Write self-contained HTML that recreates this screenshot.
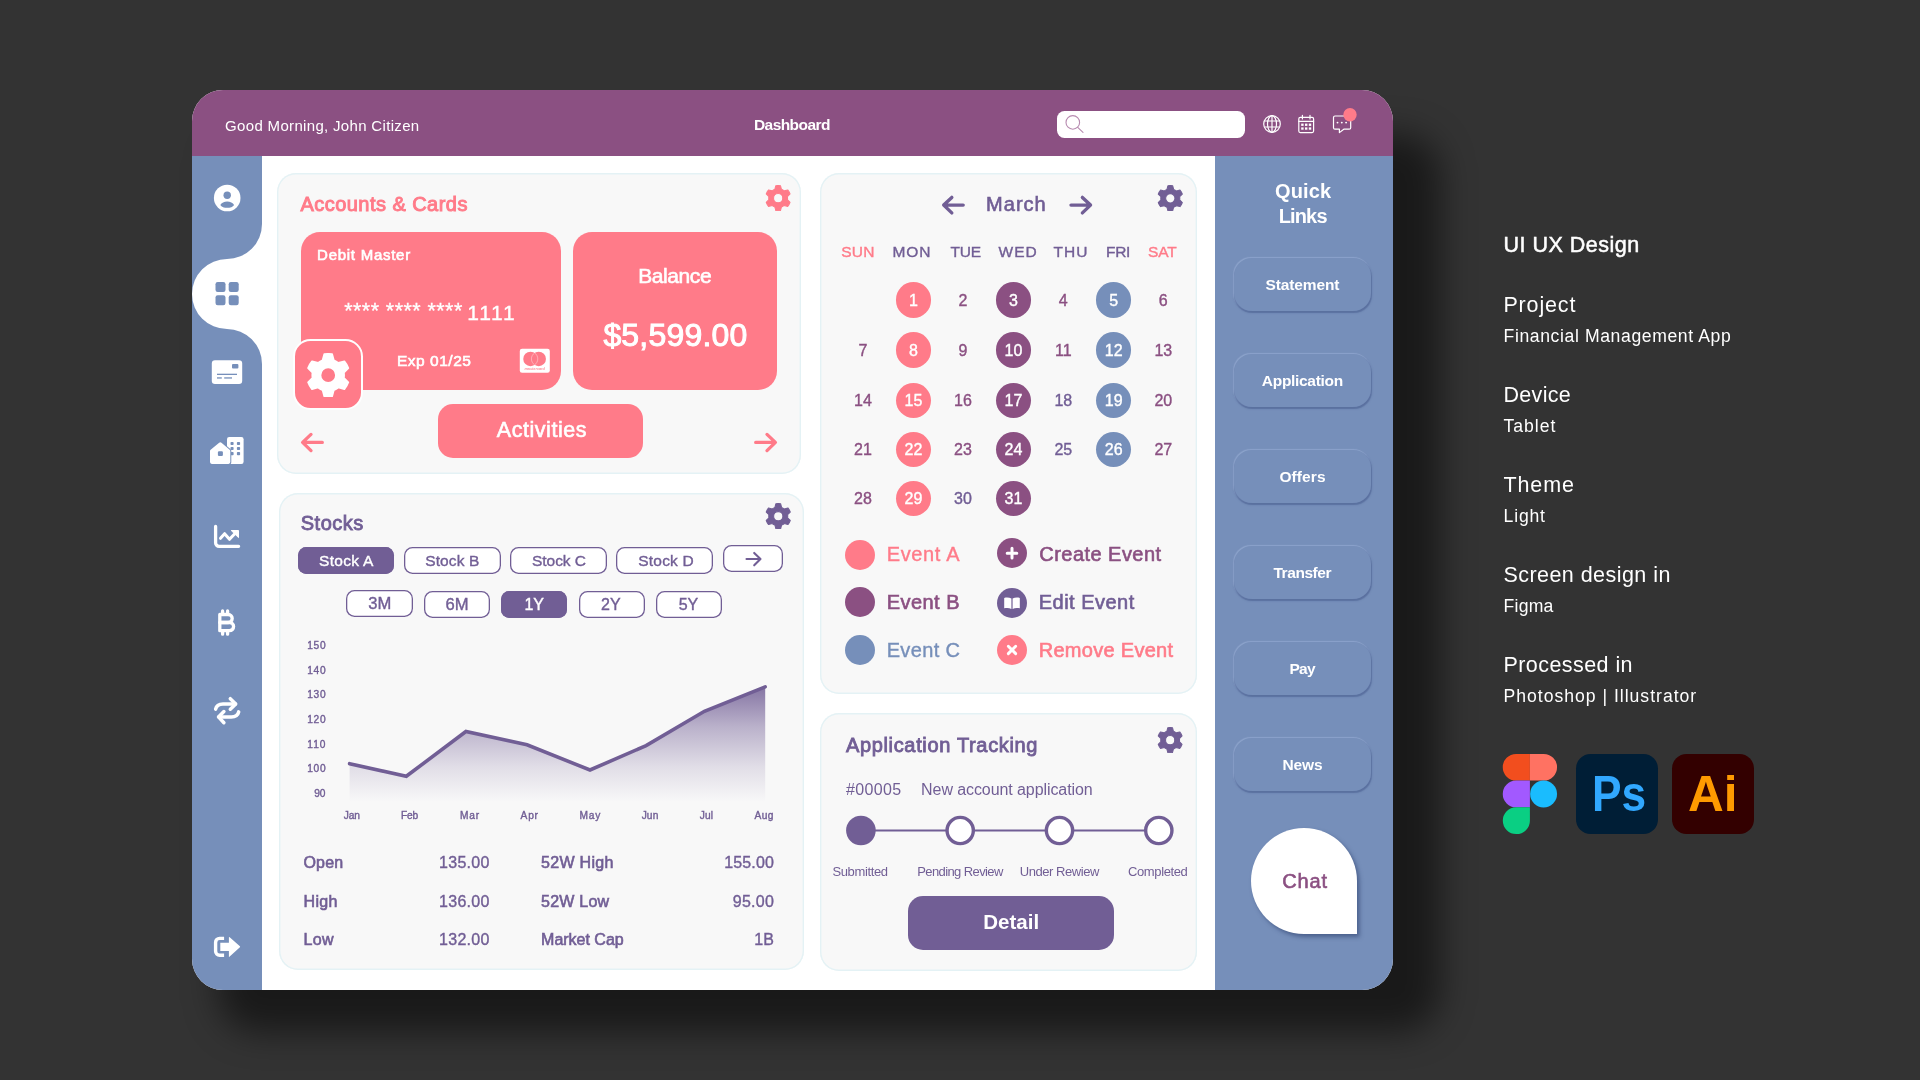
<!DOCTYPE html>
<html lang="en">
<head>
<meta charset="utf-8">
<title>Financial Management App - Dashboard</title>
<style>
*{margin:0;padding:0;box-sizing:border-box}
html,body{width:1920px;height:1080px;overflow:hidden;background:#333333}
body{position:relative;font-family:"Liberation Sans",sans-serif}
.a{position:absolute}
.t{position:absolute;white-space:nowrap;line-height:1;font-family:"Liberation Sans",sans-serif}
#shadow{position:absolute;left:218px;top:134px;width:1222px;height:898px;border-radius:40px;background:rgba(0,0,0,.5);filter:blur(17px)}
#device{position:absolute;left:192px;top:90px;width:1200.5px;height:900px;border-radius:31px;background:#fff;overflow:hidden}
#wrap{position:absolute;left:0;top:0;width:1920px;height:1080px;will-change:transform}
.card{background:#F8F8F8;box-shadow:inset 0 0 0 1.4px #E4F2F5;border-radius:19px}
.pink{background:#FF7B89}
.sbtn{box-shadow:inset 0 0 0 1.3px #715E95;border-radius:8.5px;background:#fff;height:27px}
.sbtn.on{background:#715E95}
.ql{left:1234.2px;width:136.6px;height:53.2px;margin-top:.6px;border-radius:18px;background:#768FBA;box-shadow:0.9px 1.2px 1.3px rgba(66,86,136,.55),-0.8px -0.8px 1px rgba(176,196,232,.42)}
.day{width:35.4px;height:35.4px;border-radius:50%}
</style>
</head>
<body>
<div id="wrap">
<div id="shadow"></div>
<div id="device"><div class="a" style="left:-192px;top:-90px;width:1920px;height:1080px">

<!-- header / sidebars -->
<div class="a" style="left:192px;top:90px;width:1201px;height:66px;background:#8B5082"></div>
<div class="a" style="left:1215.4px;top:156px;width:178px;height:834px;background:#768FBA"></div>
<!-- left sidebar with active-tab notch -->
<svg class="a" style="left:192px;top:156px" width="80" height="834" viewBox="192 156 80 834">
  <path fill="#768FBA" d="M192 156 H262 V224 A35 35 0 0 1 227 259 A35 35 0 0 0 227 329 A35 35 0 0 1 262 364 V990 H192 Z"/>
</svg>

<!-- ===== sidebar icons ===== -->
<svg class="a" style="left:192px;top:156px" width="70" height="834" viewBox="192 156 70 834">
  <!-- user -->
  <circle cx="227.200" cy="198" r="13.300" fill="#fff"/>
  <circle cx="227.200" cy="195.200" r="3.700" fill="#768FBA"/>
  <path fill="#768FBA" d="M220.300 205 C222.500 200.200 231.900 200.200 234.100 205 C231.900 208.800 222.500 208.800 220.300 205 Z"/>
  <!-- grid -->
  <g fill="#768FBA">
    <rect x="215.500" y="282" width="10" height="10" rx="2.200"/>
    <rect x="228.700" y="282" width="10" height="10" rx="2.200"/>
    <rect x="215.500" y="295.300" width="10" height="10" rx="2.200"/>
    <rect x="228.700" y="295.300" width="10" height="10" rx="2.200"/>
  </g>
  <!-- card -->
  <rect x="211.800" y="360.200" width="30.400" height="23.800" rx="3.200" fill="#fff"/>
  <rect x="232" y="364" width="6.400" height="4.600" rx="1" fill="#768FBA"/>
  <rect x="217" y="373.700" width="20" height="1.300" fill="#768FBA"/>
  <rect x="217" y="377.300" width="4.800" height="1.300" fill="#768FBA"/>
  <rect x="224.200" y="377.300" width="7.800" height="1.300" fill="#768FBA"/>
  <!-- building -->
  <rect x="227" y="437" width="16.600" height="26.900" rx="2.200" fill="#fff"/>
  <g fill="#768FBA">
    <rect x="230.500" y="441.900" width="3.100" height="3.200" rx="0.800"/><rect x="236.900" y="441.900" width="3.200" height="3.200" rx="0.800"/>
    <rect x="230.500" y="446.900" width="3.100" height="3.200" rx="0.800"/><rect x="236.900" y="446.900" width="3.200" height="3.200" rx="0.800"/>
    <rect x="230.500" y="452" width="3.100" height="3.200" rx="0.800"/><rect x="236.900" y="452" width="3.200" height="3.200" rx="0.800"/>
  </g>
  <path d="M220.300 444.100 L228.500 451.100 V462.100 H211.800 V451.100 Z" fill="#768FBA" stroke="#768FBA" stroke-width="5.600" stroke-linejoin="round"/>
  <path d="M220.300 444.100 L228.500 451.100 V462.100 H211.800 V451.100 Z" fill="#fff" stroke="#fff" stroke-width="3.600" stroke-linejoin="round"/>
  <rect x="217.900" y="451.300" width="5" height="4.800" rx="1.100" fill="#768FBA"/>
  <!-- chart line -->
  <path fill="none" stroke="#fff" stroke-width="3.300" stroke-linecap="round" stroke-linejoin="round" d="M215.600 526.400 V542.800 A3.500 3.500 0 0 0 219.100 546.300 H238.600"/>
  <path fill="none" stroke="#fff" stroke-width="3" stroke-linecap="round" stroke-linejoin="round" d="M220.500 538.300 L224.600 533.700 L229.500 539.300 L235.500 533"/>
  <path fill="#fff" stroke="#fff" stroke-width="1" stroke-linejoin="round" d="M231.200 530.500 H238.500 V537.600 Z"/>
  <!-- bitcoin -->
  <g fill="none" stroke="#fff" stroke-width="3.300" stroke-linejoin="round" stroke-linecap="round">
    <path d="M219.800 614.500 H228.200 A4 4 0 0 1 228.200 622.500 H219.800 Z"/>
    <path d="M219.800 622.500 H229.500 A4.100 4.100 0 0 1 229.500 630.700 H219.800 Z"/>
    <path d="M222.600 610.900 V613 M227.600 610.900 V613 M222.600 632 V634.200 M227.600 632 V634.200"/>
  </g>
  <!-- repeat -->
  <g fill="none" stroke="#fff" stroke-width="3.500" stroke-linecap="round" stroke-linejoin="round">
    <path d="M215.600 709.200 C216.300 705.600 219 703.900 223 703.900 H235.500"/>
    <path d="M230.300 698.700 L235.700 703.900 L230.300 709.200"/>
    <path d="M238.700 711.900 C238 715.200 235.200 716.900 231.300 716.900 H218.800"/>
    <path d="M223.900 711.500 L218.500 716.900 L223.900 722.700"/>
  </g>
  <!-- logout -->
  <path fill="none" stroke="#fff" stroke-width="3.400" stroke-linejoin="round" d="M224.100 938.400 H219.600 A4 4 0 0 0 215.600 942.400 V951.300 A4 4 0 0 0 219.600 955.300 H224.100"/>
  <path fill="#fff" d="M220.300 942.800 H228.900 V937.500 Q228.900 936.600 229.700 937.300 L239.900 946.300 Q240.400 946.800 239.900 947.300 L229.700 956.600 Q228.900 957.300 228.900 956.400 V950.900 H220.300 Z"/>
</svg>

<!-- ===== header widgets ===== -->
<div class="a" style="left:1056.500px;top:111px;width:188.500px;height:27px;border-radius:7.500px;background:#fff"></div>
<svg class="a" style="left:1040px;top:100px" width="360" height="50" viewBox="1040 100 360 50">
  <g fill="none" stroke="#B78BB0" stroke-width="1.100" stroke-linecap="round">
    <circle cx="1072.800" cy="122.400" r="6.800"/><path d="M1077.700 127.300 L1083 132.300"/>
  </g>
  <!-- globe -->
  <g fill="none" stroke="#fff" stroke-width="1.200">
    <circle cx="1272" cy="124" r="8.300"/>
    <ellipse cx="1272" cy="124" rx="4.500" ry="8.300"/>
    <path d="M1272 115.700 V132.300 M1264.300 121 H1279.700 M1264.300 127 H1279.700"/>
  </g>
  <!-- calendar -->
  <g fill="none" stroke="#fff" stroke-width="1.200" stroke-linejoin="round">
    <rect x="1298.800" y="117.400" width="14.800" height="15.200" rx="1.500"/>
    <path d="M1298.800 121.300 H1313.600 M1302.400 115.300 V119 M1310 115.300 V119" stroke-linecap="round"/>
  </g>
  <g fill="#fff">
    <rect x="1301.200" y="123.600" width="2.400" height="2.300"/><rect x="1305" y="123.600" width="2.400" height="2.300"/><rect x="1308.800" y="123.600" width="2.400" height="2.300"/>
    <rect x="1301.200" y="127.400" width="2.400" height="2.300"/><rect x="1305" y="127.400" width="2.400" height="2.300"/><rect x="1308.800" y="127.400" width="2.400" height="2.300"/>
  </g>
  <!-- chat -->
  <path fill="none" stroke="#fff" stroke-width="1.200" stroke-linejoin="round" d="M1335 116 H1349.200 A1.500 1.500 0 0 1 1350.700 117.500 V127.700 A1.500 1.500 0 0 1 1349.200 129.200 H1343.800 L1339.400 132.600 V129.200 H1335 A1.500 1.500 0 0 1 1333.500 127.700 V117.500 A1.500 1.500 0 0 1 1335 116 Z"/>
  <g fill="#fff"><circle cx="1337.500" cy="122.600" r="0.950"/><circle cx="1341.800" cy="122.600" r="0.950"/><circle cx="1346.100" cy="122.600" r="0.950"/></g>
  <circle cx="1350" cy="114.800" r="6.700" fill="#FF7B89"/>
</svg>

<!-- ===== cards ===== -->
<div class="a card" style="left:276.600px;top:172.600px;width:524.400px;height:301.800px"></div>
<div class="a card" style="left:279px;top:492.600px;width:525px;height:477.600px"></div>
<div class="a card" style="left:820.200px;top:172.600px;width:376.600px;height:521.500px"></div>
<div class="a card" style="left:820.200px;top:713.300px;width:376.600px;height:257.300px"></div>

<!-- accounts & cards -->
<div class="a pink" style="left:300.800px;top:232.200px;width:260.200px;height:158.300px;border-radius:19px"></div>
<div class="a pink" style="left:573.300px;top:232.200px;width:203.500px;height:158.300px;border-radius:19px"></div>
<div class="a pink" style="left:437.800px;top:403.900px;width:205.400px;height:54.300px;border-radius:15px"></div>
<div class="a pink" style="left:293.300px;top:339.400px;width:70px;height:70.400px;border-radius:17.500px;border:2px solid #FEFEFE"></div>
<!-- mastercard -->
<svg class="a" style="left:519px;top:348px" width="32" height="26" viewBox="519 348 32 26">
  <rect x="519.800" y="348.800" width="30" height="23.900" rx="2.300" fill="#fff"/>
  <circle cx="530.500" cy="358.900" r="7.250" fill="#FF7B89"/>
  <circle cx="538.700" cy="358.900" r="7.250" fill="#FF7B89"/>
  <path d="M534.600 352.900 A7.250 7.250 0 0 1 534.600 364.900 A7.250 7.250 0 0 1 534.600 352.900 Z" fill="#FF7B89" stroke="#FFD9DD" stroke-width="0.550"/>
  <text x="534.700" y="369.900" text-anchor="middle" font-family="Liberation Sans, sans-serif" font-style="italic" font-weight="700" font-size="3.900" fill="#FF7B89" opacity=".8" textLength="20.500">mastercard</text>
</svg>
<!-- gears -->
<svg class="a" style="left:305.80px;top:352.60px" width="44.40" height="44.40" viewBox="-100 -100 200 200"><path fill-rule="evenodd" fill="#fff" stroke="#fff" stroke-width="8" stroke-linejoin="round" d="M-25.2 -66.9 L-17.7 -94.4 A96.0 96.0 0 0 1 17.7 -94.4 L25.2 -66.9 A71.5 71.5 0 0 1 45.4 -55.3 L72.9 -62.5 A96.0 96.0 0 0 1 90.5 -31.9 L70.5 -11.7 A71.5 71.5 0 0 1 70.5 11.7 L90.5 31.9 A96.0 96.0 0 0 1 72.9 62.5 L45.4 55.3 A71.5 71.5 0 0 1 25.2 66.9 L17.7 94.4 A96.0 96.0 0 0 1 -17.7 94.4 L-25.2 66.9 A71.5 71.5 0 0 1 -45.4 55.3 L-72.9 62.5 A96.0 96.0 0 0 1 -90.5 31.9 L-70.5 11.7 A71.5 71.5 0 0 1 -70.5 -11.7 L-90.5 -31.9 A96.0 96.0 0 0 1 -72.9 -62.5 L-45.4 -55.3 A71.5 71.5 0 0 1 -25.2 -66.9 Z M0 -35.0 A35.0 35.0 0 1 0 0 35.0 A35.0 35.0 0 1 0 0 -35.0 Z"/></svg>
<svg class="a" style="left:765.15px;top:184.85px" width="26.30" height="26.30" viewBox="-100 -100 200 200"><path fill-rule="evenodd" fill="#FF7B89" stroke="#FF7B89" stroke-width="8" stroke-linejoin="round" d="M-25.2 -66.9 L-17.7 -94.4 A96.0 96.0 0 0 1 17.7 -94.4 L25.2 -66.9 A71.5 71.5 0 0 1 45.4 -55.3 L72.9 -62.5 A96.0 96.0 0 0 1 90.5 -31.9 L70.5 -11.7 A71.5 71.5 0 0 1 70.5 11.7 L90.5 31.9 A96.0 96.0 0 0 1 72.9 62.5 L45.4 55.3 A71.5 71.5 0 0 1 25.2 66.9 L17.7 94.4 A96.0 96.0 0 0 1 -17.7 94.4 L-25.2 66.9 A71.5 71.5 0 0 1 -45.4 55.3 L-72.9 62.5 A96.0 96.0 0 0 1 -90.5 31.9 L-70.5 11.7 A71.5 71.5 0 0 1 -70.5 -11.7 L-90.5 -31.9 A96.0 96.0 0 0 1 -72.9 -62.5 L-45.4 -55.3 A71.5 71.5 0 0 1 -25.2 -66.9 Z M0 -35.0 A35.0 35.0 0 1 0 0 35.0 A35.0 35.0 0 1 0 0 -35.0 Z"/></svg>
<svg class="a" style="left:765.05px;top:502.75px" width="26.50" height="26.50" viewBox="-100 -100 200 200"><path fill-rule="evenodd" fill="#715E95" stroke="#715E95" stroke-width="8" stroke-linejoin="round" d="M-25.2 -66.9 L-17.7 -94.4 A96.0 96.0 0 0 1 17.7 -94.4 L25.2 -66.9 A71.5 71.5 0 0 1 45.4 -55.3 L72.9 -62.5 A96.0 96.0 0 0 1 90.5 -31.9 L70.5 -11.7 A71.5 71.5 0 0 1 70.5 11.7 L90.5 31.9 A96.0 96.0 0 0 1 72.9 62.5 L45.4 55.3 A71.5 71.5 0 0 1 25.2 66.9 L17.7 94.4 A96.0 96.0 0 0 1 -17.7 94.4 L-25.2 66.9 A71.5 71.5 0 0 1 -45.4 55.3 L-72.9 62.5 A96.0 96.0 0 0 1 -90.5 31.9 L-70.5 11.7 A71.5 71.5 0 0 1 -70.5 -11.7 L-90.5 -31.9 A96.0 96.0 0 0 1 -72.9 -62.5 L-45.4 -55.3 A71.5 71.5 0 0 1 -25.2 -66.9 Z M0 -35.0 A35.0 35.0 0 1 0 0 35.0 A35.0 35.0 0 1 0 0 -35.0 Z"/></svg>
<svg class="a" style="left:1156.90px;top:184.80px" width="26.60" height="26.60" viewBox="-100 -100 200 200"><path fill-rule="evenodd" fill="#715E95" stroke="#715E95" stroke-width="8" stroke-linejoin="round" d="M-25.2 -66.9 L-17.7 -94.4 A96.0 96.0 0 0 1 17.7 -94.4 L25.2 -66.9 A71.5 71.5 0 0 1 45.4 -55.3 L72.9 -62.5 A96.0 96.0 0 0 1 90.5 -31.9 L70.5 -11.7 A71.5 71.5 0 0 1 70.5 11.7 L90.5 31.9 A96.0 96.0 0 0 1 72.9 62.5 L45.4 55.3 A71.5 71.5 0 0 1 25.2 66.9 L17.7 94.4 A96.0 96.0 0 0 1 -17.7 94.4 L-25.2 66.9 A71.5 71.5 0 0 1 -45.4 55.3 L-72.9 62.5 A96.0 96.0 0 0 1 -90.5 31.9 L-70.5 11.7 A71.5 71.5 0 0 1 -70.5 -11.7 L-90.5 -31.9 A96.0 96.0 0 0 1 -72.9 -62.5 L-45.4 -55.3 A71.5 71.5 0 0 1 -25.2 -66.9 Z M0 -35.0 A35.0 35.0 0 1 0 0 35.0 A35.0 35.0 0 1 0 0 -35.0 Z"/></svg>
<svg class="a" style="left:1157.15px;top:726.55px" width="26.30" height="26.30" viewBox="-100 -100 200 200"><path fill-rule="evenodd" fill="#715E95" stroke="#715E95" stroke-width="8" stroke-linejoin="round" d="M-25.2 -66.9 L-17.7 -94.4 A96.0 96.0 0 0 1 17.7 -94.4 L25.2 -66.9 A71.5 71.5 0 0 1 45.4 -55.3 L72.9 -62.5 A96.0 96.0 0 0 1 90.5 -31.9 L70.5 -11.7 A71.5 71.5 0 0 1 70.5 11.7 L90.5 31.9 A96.0 96.0 0 0 1 72.9 62.5 L45.4 55.3 A71.5 71.5 0 0 1 25.2 66.9 L17.7 94.4 A96.0 96.0 0 0 1 -17.7 94.4 L-25.2 66.9 A71.5 71.5 0 0 1 -45.4 55.3 L-72.9 62.5 A96.0 96.0 0 0 1 -90.5 31.9 L-70.5 11.7 A71.5 71.5 0 0 1 -70.5 -11.7 L-90.5 -31.9 A96.0 96.0 0 0 1 -72.9 -62.5 L-45.4 -55.3 A71.5 71.5 0 0 1 -25.2 -66.9 Z M0 -35.0 A35.0 35.0 0 1 0 0 35.0 A35.0 35.0 0 1 0 0 -35.0 Z"/></svg>
<!-- arrows accounts -->
<svg class="a" style="left:296px;top:428px" width="490" height="30" viewBox="296 428 490 30">
  <g fill="none" stroke="#FF7B89" stroke-width="3.300" stroke-linecap="round" stroke-linejoin="round">
    <path d="M322.300 442.400 H303 M311 434.400 L302.600 442.400 L311 450.600"/>
    <path d="M755.700 442.400 H775 M767 434.400 L775.400 442.400 L767 450.600"/>
  </g>
</svg>

<!-- ===== stocks ===== -->
<div class="a sbtn on" style="left:297.500px;top:547.100px;width:96.600px"></div>
<div class="a sbtn" style="left:403.700px;top:547.100px;width:97px"></div>
<div class="a sbtn" style="left:509.900px;top:547.100px;width:97px"></div>
<div class="a sbtn" style="left:616.200px;top:547.100px;width:97px"></div>
<div class="a sbtn" style="left:722.700px;top:545.200px;width:60.200px"></div>
<div class="a sbtn" style="left:346.200px;top:590.300px;width:66.600px"></div>
<div class="a sbtn" style="left:424.100px;top:591.200px;width:66px"></div>
<div class="a sbtn on" style="left:501.300px;top:591.200px;width:66px"></div>
<div class="a sbtn" style="left:578.700px;top:591.200px;width:66px"></div>
<div class="a sbtn" style="left:655.800px;top:591.200px;width:66px"></div>
<svg class="a" style="left:740px;top:548px" width="30" height="22" viewBox="740 548 30 22">
  <path fill="none" stroke="#715E95" stroke-width="2.100" stroke-linecap="round" stroke-linejoin="round" d="M746.500 559 H760.300 M754.200 552.900 L760.500 559 L754.200 565.300"/>
</svg>
<svg class="a" style="left:330px;top:670px" width="460" height="140" viewBox="330 670 460 140">
  <defs><linearGradient id="cg" x1="0" y1="686" x2="0" y2="802" gradientUnits="userSpaceOnUse">
    <stop offset="0" stop-color="#715E95" stop-opacity=".86"/>
    <stop offset=".35" stop-color="#715E95" stop-opacity=".46"/>
    <stop offset=".7" stop-color="#715E95" stop-opacity=".17"/>
    <stop offset="1" stop-color="#715E95" stop-opacity="0"/>
  </linearGradient></defs>
  <path fill="url(#cg)" d="M349.600 763.700 L406.300 776.300 L465.900 731.500 L527 744.800 L590 770 L646.100 745.600 L704.400 711.300 L765.200 686.900 V802 H349.600 Z"/>
  <path fill="none" stroke="#715E95" stroke-width="3.600" stroke-linecap="round" stroke-linejoin="miter" d="M349.600 763.700 L406.300 776.300 L465.900 731.500 L527 744.800 L590 770 L646.100 745.600 L704.400 711.300 L765.200 686.900"/>
</svg>

<!-- ===== calendar ===== -->
<svg class="a" style="left:935px;top:190px" width="165" height="30" viewBox="935 190 165 30">
  <g fill="none" stroke="#715E95" stroke-width="3.400" stroke-linecap="round" stroke-linejoin="round">
    <path d="M963.200 205.100 H944 M951.800 197.400 L943.700 205.100 L951.800 212.900"/>
    <path d="M1071 205.100 H1090.200 M1082.400 197.400 L1090.500 205.100 L1082.400 212.900"/>
  </g>
</svg>
<div class="a day" style="left:895.7px;top:282.3px;background:#FF7B89"></div>
<div class="a day" style="left:995.8px;top:282.3px;background:#8B5082"></div>
<div class="a day" style="left:1096.0px;top:282.3px;background:#768FBA"></div>
<div class="a day" style="left:895.7px;top:332.3px;background:#FF7B89"></div>
<div class="a day" style="left:995.8px;top:332.3px;background:#8B5082"></div>
<div class="a day" style="left:1096.0px;top:332.3px;background:#768FBA"></div>
<div class="a day" style="left:895.7px;top:382.6px;background:#FF7B89"></div>
<div class="a day" style="left:995.8px;top:382.6px;background:#8B5082"></div>
<div class="a day" style="left:1096.0px;top:382.6px;background:#768FBA"></div>
<div class="a day" style="left:895.7px;top:431.9px;background:#FF7B89"></div>
<div class="a day" style="left:995.8px;top:431.9px;background:#8B5082"></div>
<div class="a day" style="left:1096.0px;top:431.9px;background:#768FBA"></div>
<div class="a day" style="left:895.7px;top:481.1px;background:#FF7B89"></div>
<div class="a day" style="left:995.8px;top:481.1px;background:#8B5082"></div>
<!-- legend -->
<div class="a" style="left:845px;top:539.600px;width:30px;height:30px;border-radius:50%;background:#FF7B89"></div>
<div class="a" style="left:845px;top:587.100px;width:30px;height:30px;border-radius:50%;background:#8B5082"></div>
<div class="a" style="left:845px;top:634.500px;width:30px;height:30px;border-radius:50%;background:#768FBA"></div>
<div class="a" style="left:997px;top:538.100px;width:30px;height:30px;border-radius:50%;background:#8B5082"></div>
<div class="a" style="left:997px;top:588.200px;width:30px;height:30px;border-radius:50%;background:#715E95"></div>
<div class="a" style="left:997px;top:634.900px;width:30px;height:30px;border-radius:50%;background:#FF7B89"></div>
<svg class="a" style="left:997px;top:538px" width="30" height="128" viewBox="997 538 30 128">
  <path fill="none" stroke="#fff" stroke-width="3" stroke-linecap="round" d="M1007.200 553.200 H1016.800 M1012 548.300 V558.100"/>
  <path fill="#fff" d="M1004.200 597.900 C1006.700 597.200 1009.400 597.400 1011.400 598.500 V608.900 C1009.400 607.800 1006.700 607.700 1004.200 608.300 Z M1019.800 597.900 C1017.300 597.200 1014.600 597.400 1012.600 598.500 V608.900 C1014.600 607.800 1017.300 607.700 1019.800 608.300 Z"/>
  <path fill="none" stroke="#fff" stroke-width="2.900" stroke-linecap="round" d="M1008.300 646.200 L1015.700 653.600 M1015.700 646.200 L1008.300 653.600"/>
</svg>

<!-- ===== application tracking ===== -->
<svg class="a" style="left:840px;top:810px" width="340" height="42" viewBox="840 810 340 42">
  <path d="M861 830.500 H1158" stroke="#715E95" stroke-width="1.900" fill="none"/>
  <circle cx="860.900" cy="830.500" r="14.800" fill="#715E95"/>
  <circle cx="960.200" cy="830.500" r="13.150" fill="#fff" stroke="#715E95" stroke-width="3.400"/>
  <circle cx="1059.500" cy="830.500" r="13.150" fill="#fff" stroke="#715E95" stroke-width="3.400"/>
  <circle cx="1158.800" cy="830.500" r="13.150" fill="#fff" stroke="#715E95" stroke-width="3.400"/>
</svg>
<div class="a" style="left:908.200px;top:896px;width:206px;height:54.300px;border-radius:15px;background:#715E95"></div>

<!-- ===== quick links ===== -->
<div class="a ql" style="top:257px"></div>
<div class="a ql" style="top:353px"></div>
<div class="a ql" style="top:449px"></div>
<div class="a ql" style="top:545px"></div>
<div class="a ql" style="top:641px"></div>
<div class="a ql" style="top:737px"></div>
<div class="a" style="left:1250.900px;top:828.200px;width:106px;height:105.700px;border-radius:53px 53px 0 53px;background:#fff;box-shadow:2.500px 3px 4px rgba(40,58,104,.55)"></div>

<div class="t" style="left:225.12px;top:118.30px;font-size:15px;color:#fff;letter-spacing:0.325px">Good Morning, John Citizen</div>
<div class="t" style="left:754.01px;top:117.05px;font-size:15.5px;color:#fff;font-weight:700;letter-spacing:-0.573px">Dashboard</div>
<div class="t" style="left:300.50px;top:194.30px;font-size:20px;color:#FF7B89;-webkit-text-stroke:0.95px #FF7B89;letter-spacing:0.455px">Accounts &amp; Cards</div>
<div class="t" style="left:317.12px;top:247.30px;font-size:15px;color:#fff;-webkit-text-stroke:0.62px #fff;letter-spacing:0.729px">Debit Master</div>
<div class="t" style="left:344.26px;top:300.55px;font-size:21.5px;color:#fff;-webkit-text-stroke:0.3px #fff;letter-spacing:0.434px">**** **** ****</div>
<div class="t" style="left:467.28px;top:302.30px;font-size:21px;color:#fff;-webkit-text-stroke:0.38px #fff;letter-spacing:1.750px">1111</div>
<div class="t" style="left:396.91px;top:353.05px;font-size:15.5px;color:#fff;-webkit-text-stroke:0.62px #fff;letter-spacing:0.534px">Exp 01/25</div>
<div class="t" style="left:638.18px;top:265.30px;font-size:21px;color:#fff;-webkit-text-stroke:0.62px #fff;letter-spacing:-0.403px">Balance</div>
<div class="t" style="left:603.40px;top:319.30px;font-size:32px;color:#fff;-webkit-text-stroke:1.0px #fff;letter-spacing:0.185px">$5,599.00</div>
<div class="t" style="left:496.76px;top:419.55px;font-size:21.5px;color:#fff;-webkit-text-stroke:0.62px #fff;letter-spacing:0.553px">Activities</div>
<div class="t" style="left:300.80px;top:513.30px;font-size:20px;color:#715E95;-webkit-text-stroke:0.85px #715E95;letter-spacing:0.474px">Stocks</div>
<div class="t" style="left:319.01px;top:553.05px;font-size:15.5px;color:#fff;-webkit-text-stroke:0.38px #fff;letter-spacing:0.304px">Stock A</div>
<div class="t" style="left:425.26px;top:553.05px;font-size:15.5px;color:#715E95;-webkit-text-stroke:0.38px #715E95;letter-spacing:0.111px">Stock B</div>
<div class="t" style="left:531.96px;top:553.05px;font-size:15.5px;color:#715E95;-webkit-text-stroke:0.38px #715E95;letter-spacing:-0.030px">Stock C</div>
<div class="t" style="left:638.21px;top:553.05px;font-size:15.5px;color:#715E95;-webkit-text-stroke:0.38px #715E95;letter-spacing:0.220px">Stock D</div>
<div class="t" style="left:368.27px;top:595.50px;font-size:16.6px;color:#715E95;-webkit-text-stroke:0.38px #715E95">3M</div>
<div class="t" style="left:445.47px;top:596.50px;font-size:16.6px;color:#715E95;-webkit-text-stroke:0.38px #715E95">6M</div>
<div class="t" style="left:524.41px;top:596.80px;font-size:16px;color:#fff;-webkit-text-stroke:0.38px #fff">1Y</div>
<div class="t" style="left:601.01px;top:596.80px;font-size:16px;color:#715E95;-webkit-text-stroke:0.38px #715E95">2Y</div>
<div class="t" style="left:678.71px;top:596.80px;font-size:16px;color:#715E95;-webkit-text-stroke:0.38px #715E95">5Y</div>
<div class="t" style="left:307.24px;top:640.70px;font-size:10.2px;color:#715E95;-webkit-text-stroke:0.38px #715E95;letter-spacing:0.657px">150</div>
<div class="t" style="left:307.24px;top:665.70px;font-size:10.2px;color:#715E95;-webkit-text-stroke:0.38px #715E95;letter-spacing:0.657px">140</div>
<div class="t" style="left:307.24px;top:689.70px;font-size:10.2px;color:#715E95;-webkit-text-stroke:0.38px #715E95;letter-spacing:0.657px">130</div>
<div class="t" style="left:307.24px;top:714.70px;font-size:10.2px;color:#715E95;-webkit-text-stroke:0.38px #715E95;letter-spacing:0.657px">120</div>
<div class="t" style="left:307.31px;top:739.70px;font-size:10.2px;color:#715E95;-webkit-text-stroke:0.38px #715E95;letter-spacing:1.000px">110</div>
<div class="t" style="left:307.24px;top:763.70px;font-size:10.2px;color:#715E95;-webkit-text-stroke:0.38px #715E95;letter-spacing:0.657px">100</div>
<div class="t" style="left:314.21px;top:788.70px;font-size:10.2px;color:#715E95;-webkit-text-stroke:0.38px #715E95">90</div>
<div class="t" style="left:343.74px;top:810.70px;font-size:10.2px;color:#715E95;-webkit-text-stroke:0.38px #715E95;letter-spacing:-0.162px">Jan</div>
<div class="t" style="left:401.09px;top:810.70px;font-size:10.2px;color:#715E95;-webkit-text-stroke:0.38px #715E95;letter-spacing:-0.274px">Feb</div>
<div class="t" style="left:459.99px;top:810.70px;font-size:10.2px;color:#715E95;-webkit-text-stroke:0.38px #715E95;letter-spacing:0.834px">Mar</div>
<div class="t" style="left:520.59px;top:810.70px;font-size:10.2px;color:#715E95;-webkit-text-stroke:0.38px #715E95;letter-spacing:0.777px">Apr</div>
<div class="t" style="left:579.54px;top:810.70px;font-size:10.2px;color:#715E95;-webkit-text-stroke:0.38px #715E95;letter-spacing:0.732px">May</div>
<div class="t" style="left:641.64px;top:810.70px;font-size:10.2px;color:#715E95;-webkit-text-stroke:0.38px #715E95;letter-spacing:0.138px">Jun</div>
<div class="t" style="left:699.84px;top:810.70px;font-size:10.2px;color:#715E95;-webkit-text-stroke:0.38px #715E95;letter-spacing:0.141px">Jul</div>
<div class="t" style="left:754.54px;top:810.70px;font-size:10.2px;color:#715E95;-webkit-text-stroke:0.38px #715E95;letter-spacing:0.387px">Aug</div>
<div class="t" style="left:303.50px;top:854.80px;font-size:16px;color:#715E95;-webkit-text-stroke:0.62px #715E95;letter-spacing:0.160px">Open</div>
<div class="t" style="left:439.08px;top:854.80px;font-size:16px;color:#715E95;-webkit-text-stroke:0.38px #715E95;letter-spacing:0.277px">135.00</div>
<div class="t" style="left:541.10px;top:854.80px;font-size:16px;color:#715E95;-webkit-text-stroke:0.62px #715E95;letter-spacing:0.296px">52W High</div>
<div class="t" style="left:724.18px;top:854.80px;font-size:16px;color:#715E95;-webkit-text-stroke:0.38px #715E95;letter-spacing:0.156px">155.00</div>
<div class="t" style="left:303.50px;top:893.80px;font-size:16px;color:#715E95;-webkit-text-stroke:0.62px #715E95;letter-spacing:0.371px">High</div>
<div class="t" style="left:439.08px;top:893.80px;font-size:16px;color:#715E95;-webkit-text-stroke:0.38px #715E95;letter-spacing:0.277px">136.00</div>
<div class="t" style="left:541.10px;top:893.80px;font-size:16px;color:#715E95;-webkit-text-stroke:0.62px #715E95;letter-spacing:0.219px">52W Low</div>
<div class="t" style="left:732.78px;top:893.80px;font-size:16px;color:#715E95;-webkit-text-stroke:0.38px #715E95;letter-spacing:0.268px">95.00</div>
<div class="t" style="left:303.50px;top:931.80px;font-size:16px;color:#715E95;-webkit-text-stroke:0.62px #715E95;letter-spacing:0.380px">Low</div>
<div class="t" style="left:439.08px;top:931.80px;font-size:16px;color:#715E95;-webkit-text-stroke:0.38px #715E95;letter-spacing:0.277px">132.00</div>
<div class="t" style="left:541.10px;top:931.80px;font-size:16px;color:#715E95;-webkit-text-stroke:0.62px #715E95;letter-spacing:-0.009px">Market Cap</div>
<div class="t" style="left:754.32px;top:931.80px;font-size:16px;color:#715E95;-webkit-text-stroke:0.38px #715E95">1B</div>
<div class="t" style="left:986.10px;top:194.30px;font-size:20px;color:#715E95;-webkit-text-stroke:0.62px #715E95;letter-spacing:1.000px">March</div>
<div class="t" style="left:841.21px;top:244.05px;font-size:15.5px;color:#FF7B89;-webkit-text-stroke:0.38px #FF7B89;letter-spacing:0.225px">SUN</div>
<div class="t" style="left:892.41px;top:244.05px;font-size:15.5px;color:#715E95;-webkit-text-stroke:0.38px #715E95;letter-spacing:1.000px">MON</div>
<div class="t" style="left:950.61px;top:244.05px;font-size:15.5px;color:#715E95;-webkit-text-stroke:0.38px #715E95;letter-spacing:-0.307px">TUE</div>
<div class="t" style="left:998.61px;top:244.05px;font-size:15.5px;color:#715E95;-webkit-text-stroke:0.38px #715E95;letter-spacing:1.000px">WED</div>
<div class="t" style="left:1053.61px;top:244.05px;font-size:15.5px;color:#715E95;-webkit-text-stroke:0.38px #715E95;letter-spacing:1.000px">THU</div>
<div class="t" style="left:1106.01px;top:244.05px;font-size:15.5px;color:#715E95;-webkit-text-stroke:0.38px #715E95;letter-spacing:-0.292px">FRI</div>
<div class="t" style="left:1148.11px;top:244.05px;font-size:15.5px;color:#FF7B89;-webkit-text-stroke:0.38px #FF7B89;letter-spacing:-0.207px">SAT</div>
<div class="t" style="left:908.95px;top:292.80px;font-size:16px;color:#fff;-webkit-text-stroke:0.38px #fff">1</div>
<div class="t" style="left:958.55px;top:292.80px;font-size:16px;color:#8B5082;-webkit-text-stroke:0.38px #8B5082">2</div>
<div class="t" style="left:1009.05px;top:292.80px;font-size:16px;color:#fff;-webkit-text-stroke:0.38px #fff">3</div>
<div class="t" style="left:1058.85px;top:292.80px;font-size:16px;color:#8B5082;-webkit-text-stroke:0.38px #8B5082">4</div>
<div class="t" style="left:1109.25px;top:292.80px;font-size:16px;color:#fff;-webkit-text-stroke:0.38px #fff">5</div>
<div class="t" style="left:1158.85px;top:292.80px;font-size:16px;color:#8B5082;-webkit-text-stroke:0.38px #8B5082">6</div>
<div class="t" style="left:858.55px;top:342.80px;font-size:16px;color:#8B5082;-webkit-text-stroke:0.38px #8B5082">7</div>
<div class="t" style="left:908.95px;top:342.80px;font-size:16px;color:#fff;-webkit-text-stroke:0.38px #fff">8</div>
<div class="t" style="left:958.55px;top:342.80px;font-size:16px;color:#8B5082;-webkit-text-stroke:0.38px #8B5082">9</div>
<div class="t" style="left:1004.60px;top:342.80px;font-size:16px;color:#fff;-webkit-text-stroke:0.38px #fff">10</div>
<div class="t" style="left:1055.00px;top:342.80px;font-size:16px;color:#8B5082;-webkit-text-stroke:0.38px #8B5082">11</div>
<div class="t" style="left:1104.80px;top:342.80px;font-size:16px;color:#fff;-webkit-text-stroke:0.38px #fff">12</div>
<div class="t" style="left:1154.40px;top:342.80px;font-size:16px;color:#8B5082;-webkit-text-stroke:0.38px #8B5082">13</div>
<div class="t" style="left:854.10px;top:392.80px;font-size:16px;color:#8B5082;-webkit-text-stroke:0.38px #8B5082">14</div>
<div class="t" style="left:904.50px;top:392.80px;font-size:16px;color:#fff;-webkit-text-stroke:0.38px #fff">15</div>
<div class="t" style="left:954.10px;top:392.80px;font-size:16px;color:#8B5082;-webkit-text-stroke:0.38px #8B5082">16</div>
<div class="t" style="left:1004.60px;top:392.80px;font-size:16px;color:#fff;-webkit-text-stroke:0.38px #fff">17</div>
<div class="t" style="left:1054.40px;top:392.80px;font-size:16px;color:#715E95;-webkit-text-stroke:0.38px #715E95">18</div>
<div class="t" style="left:1104.80px;top:392.80px;font-size:16px;color:#fff;-webkit-text-stroke:0.38px #fff">19</div>
<div class="t" style="left:1154.40px;top:392.80px;font-size:16px;color:#8B5082;-webkit-text-stroke:0.38px #8B5082">20</div>
<div class="t" style="left:854.10px;top:441.80px;font-size:16px;color:#8B5082;-webkit-text-stroke:0.38px #8B5082">21</div>
<div class="t" style="left:904.50px;top:441.80px;font-size:16px;color:#fff;-webkit-text-stroke:0.38px #fff">22</div>
<div class="t" style="left:954.10px;top:441.80px;font-size:16px;color:#8B5082;-webkit-text-stroke:0.38px #8B5082">23</div>
<div class="t" style="left:1004.60px;top:441.80px;font-size:16px;color:#fff;-webkit-text-stroke:0.38px #fff">24</div>
<div class="t" style="left:1054.40px;top:441.80px;font-size:16px;color:#715E95;-webkit-text-stroke:0.38px #715E95">25</div>
<div class="t" style="left:1104.80px;top:441.80px;font-size:16px;color:#fff;-webkit-text-stroke:0.38px #fff">26</div>
<div class="t" style="left:1154.40px;top:441.80px;font-size:16px;color:#8B5082;-webkit-text-stroke:0.38px #8B5082">27</div>
<div class="t" style="left:854.10px;top:490.80px;font-size:16px;color:#8B5082;-webkit-text-stroke:0.38px #8B5082">28</div>
<div class="t" style="left:904.50px;top:490.80px;font-size:16px;color:#fff;-webkit-text-stroke:0.38px #fff">29</div>
<div class="t" style="left:954.10px;top:490.80px;font-size:16px;color:#715E95;-webkit-text-stroke:0.38px #715E95">30</div>
<div class="t" style="left:1004.60px;top:490.80px;font-size:16px;color:#fff;-webkit-text-stroke:0.38px #fff">31</div>
<div class="t" style="left:886.70px;top:544.30px;font-size:20px;color:#FF7B89;-webkit-text-stroke:0.38px #FF7B89;letter-spacing:0.644px">Event A</div>
<div class="t" style="left:886.70px;top:592.30px;font-size:20px;color:#8B5082;-webkit-text-stroke:0.62px #8B5082;letter-spacing:0.459px">Event B</div>
<div class="t" style="left:886.70px;top:640.30px;font-size:20px;color:#768FBA;-webkit-text-stroke:0.38px #768FBA;letter-spacing:0.341px">Event C</div>
<div class="t" style="left:1039.30px;top:544.30px;font-size:20px;color:#8B5082;-webkit-text-stroke:0.62px #8B5082;letter-spacing:0.461px">Create Event</div>
<div class="t" style="left:1038.70px;top:592.30px;font-size:20px;color:#715E95;-webkit-text-stroke:0.62px #715E95;letter-spacing:0.492px">Edit Event</div>
<div class="t" style="left:1038.70px;top:640.30px;font-size:20px;color:#FF7B89;-webkit-text-stroke:0.62px #FF7B89;letter-spacing:0.293px">Remove Event</div>
<div class="t" style="left:845.90px;top:735.30px;font-size:20px;color:#715E95;-webkit-text-stroke:0.85px #715E95;letter-spacing:0.664px">Application Tracking</div>
<div class="t" style="left:846.00px;top:781.80px;font-size:16px;color:#715E95;letter-spacing:0.346px">#00005</div>
<div class="t" style="left:921.10px;top:781.80px;font-size:16px;color:#715E95;letter-spacing:-0.083px">New account application</div>
<div class="t" style="left:832.40px;top:865.30px;font-size:13px;color:#715E95;letter-spacing:-0.367px">Submitted</div>
<div class="t" style="left:917.19px;top:865.30px;font-size:13px;color:#715E95;letter-spacing:-0.596px">Pending Review</div>
<div class="t" style="left:1019.79px;top:865.30px;font-size:13px;color:#715E95;letter-spacing:-0.449px">Under Rewiew</div>
<div class="t" style="left:1128.05px;top:865.30px;font-size:13px;color:#715E95;letter-spacing:-0.396px">Completed</div>
<div class="t" style="left:983.13px;top:911.55px;font-size:20.5px;color:#fff;font-weight:700;letter-spacing:0.061px">Detail</div>
<div class="t" style="left:1275.05px;top:181.30px;font-size:20px;color:#fff;font-weight:700;letter-spacing:0.130px">Quick</div>
<div class="t" style="left:1278.65px;top:206.30px;font-size:20px;color:#fff;font-weight:700;letter-spacing:-0.838px">Links</div>
<div class="t" style="left:1265.61px;top:277.05px;font-size:15.5px;color:#fff;font-weight:700;letter-spacing:-0.144px">Statement</div>
<div class="t" style="left:1261.86px;top:373.05px;font-size:15.5px;color:#fff;font-weight:700;letter-spacing:-0.311px">Application</div>
<div class="t" style="left:1279.46px;top:469.05px;font-size:15.5px;color:#fff;font-weight:700;letter-spacing:0.086px">Offers</div>
<div class="t" style="left:1273.46px;top:565.05px;font-size:15.5px;color:#fff;font-weight:700;letter-spacing:-0.441px">Transfer</div>
<div class="t" style="left:1289.46px;top:661.05px;font-size:15.5px;color:#fff;font-weight:700;letter-spacing:-0.754px">Pay</div>
<div class="t" style="left:1282.46px;top:757.05px;font-size:15.5px;color:#fff;font-weight:700;letter-spacing:-0.138px">News</div>
<div class="t" style="left:1282.35px;top:871.30px;font-size:20px;color:#8B5082;-webkit-text-stroke:0.62px #8B5082;letter-spacing:0.817px">Chat</div>
</div></div>

<!-- ===== right-hand info ===== -->
<svg class="a" style="left:1502px;top:753px" width="56" height="82" viewBox="0 0 56 82">
  <path fill="#F24E1E" d="M14.100 .9 H27.900 V27.600 H14.100 A13.350 13.350 0 0 1 14.100 .9 Z"/>
  <path fill="#FF7262" d="M27.900 .9 H41.700 A13.350 13.350 0 0 1 41.700 27.600 H27.900 Z"/>
  <path fill="#A259FF" d="M14.100 27.600 H27.900 V54.300 H14.100 A13.350 13.350 0 0 1 14.100 27.600 Z"/>
  <circle cx="41.600" cy="40.950" r="13.450" fill="#1ABCFE"/>
  <path fill="#0ACF83" d="M14.100 54.300 H27.900 V67.700 A13.600 13.400 0 0 1 14.300 81.100 A13.400 13.400 0 0 1 14.100 54.300 Z"/>
</svg>
<div class="a" style="left:1576px;top:753.900px;width:82px;height:80px;border-radius:14.500px;background:#001E36"></div>
<div class="a" style="left:1672px;top:753.900px;width:82px;height:80px;border-radius:14.500px;background:#330000"></div>
<div class="t" style="left:1503.46px;top:234.55px;font-size:21.5px;color:#fff;-webkit-text-stroke:0.5px #fff;letter-spacing:0.505px">UI UX Design</div>
<div class="t" style="left:1503.46px;top:294.55px;font-size:21.5px;color:#fff;letter-spacing:0.831px">Project</div>
<div class="t" style="left:1503.56px;top:327.50px;font-size:17.6px;color:#fff;letter-spacing:0.609px">Financial Management App</div>
<div class="t" style="left:1503.46px;top:384.55px;font-size:21.5px;color:#fff;letter-spacing:0.317px">Device</div>
<div class="t" style="left:1503.56px;top:417.50px;font-size:17.6px;color:#fff;letter-spacing:0.976px">Tablet</div>
<div class="t" style="left:1503.46px;top:474.55px;font-size:21.5px;color:#fff;letter-spacing:0.896px">Theme</div>
<div class="t" style="left:1503.56px;top:507.50px;font-size:17.6px;color:#fff;letter-spacing:0.819px">Light</div>
<div class="t" style="left:1503.46px;top:564.55px;font-size:21.5px;color:#fff;letter-spacing:0.449px">Screen design in</div>
<div class="t" style="left:1503.56px;top:597.50px;font-size:17.6px;color:#fff;letter-spacing:0.235px">Figma</div>
<div class="t" style="left:1503.46px;top:654.55px;font-size:21.5px;color:#fff;letter-spacing:0.437px">Processed in</div>
<div class="t" style="left:1503.56px;top:687.50px;font-size:17.6px;color:#fff;letter-spacing:0.991px">Photoshop | Illustrator</div>
<div class="t" style="left:1592.06px;top:769.05px;font-size:49.5px;color:#31A8FF;font-weight:700;transform:scaleX(0.895);transform-origin:0 0">Ps</div>
<div class="t" style="left:1687.96px;top:769.05px;font-size:49.5px;color:#FF9A00;font-weight:700;transform:scaleX(1.0);transform-origin:0 0">Ai</div>

</div>
</body>
</html>
